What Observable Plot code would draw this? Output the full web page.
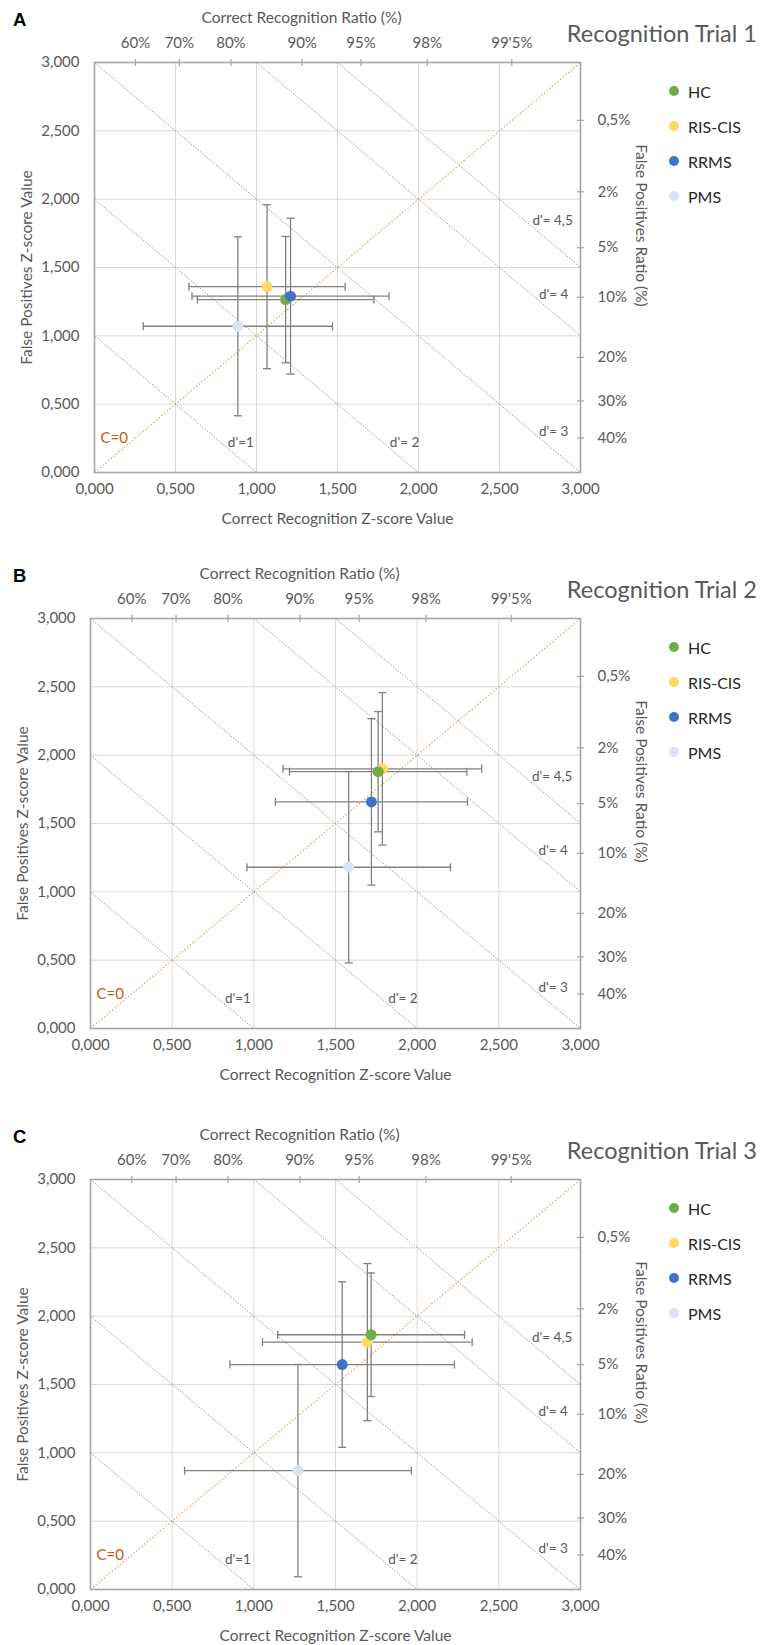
<!DOCTYPE html>
<html><head><meta charset="utf-8">
<script src="https://cdn.jsdelivr.net/npm/d3@7"></script>
<script src="https://cdn.jsdelivr.net/npm/@observablehq/plot@0.6"></script>
<style>
body{margin:0;background:#fff;font-family:Lato,sans-serif;}
#root{position:relative;width:761px;height:1645px;overflow:hidden;}
.panel{position:absolute;left:0;width:761px;height:530px;}
.panel svg{position:absolute;left:0;top:0;overflow:visible;}
.letter{position:absolute;left:13px;top:9px;font:bold 18.5px "Liberation Sans",Arial,sans-serif;color:#000;}
.ttl{position:absolute;right:4px;top:18px;font-size:23.5px;color:#595959;line-height:30px;white-space:nowrap;}
.leg{position:absolute;left:669px;font-size:16px;color:#262626;display:flex;align-items:center;height:20px;white-space:nowrap;}
.leg i{display:inline-block;width:10px;height:10px;border-radius:50%;margin-right:9px;}
</style></head><body><div id="root"></div>
<script>
// ---- data ----
const groups = ["HC", "RIS-CIS", "RRMS", "PMS"];
const groupColors = ["#70ad47", "#ffd966", "#4472c4", "#dae3f3"];
const trialNames = ["Recognition Trial 1", "Recognition Trial 2", "Recognition Trial 3"];
const panelLetters = ["A", "B", "C"];

// Trial 1
const t1X = [1.18, 1.065, 1.21, 0.885];
const t1Y = [1.265, 1.36, 1.29, 1.07];
const t1XErr = [0.545, 0.482, 0.608, 0.584];
const t1YErr = [0.462, 0.60, 0.57, 0.655];
// Trial 2
const t2X = [1.761, 1.787, 1.72, 1.581];
const t2Y = [1.879, 1.90, 1.658, 1.18];
const t2XErr = [0.543, 0.608, 0.588, 0.623];
const t2YErr = [0.44, 0.558, 0.609, 0.70];
// Trial 3
const t3X = [1.718, 1.695, 1.541, 1.27];
const t3Y = [1.864, 1.81, 1.646, 0.87];
const t3XErr = [0.572, 0.642, 0.687, 0.694];
const t3YErr = [0.452, 0.575, 0.606, 0.777];

const zTickValues = [0, 0.5, 1, 1.5, 2, 2.5, 3];
const hitRatioLabels = ["60%", "70%", "80%", "90%", "95%", "98%", "99'5%"];
const hitRatioZ = [0.253, 0.524, 0.842, 1.282, 1.645, 2.054, 2.576];
const faRatioLabels = ["0,5%", "2%", "5%", "10%", "20%", "30%", "40%"];
const faRatioZ = [2.576, 2.054, 1.645, 1.282, 0.842, 0.524, 0.253];
const dPrimeValues = [1, 2, 3, 4, 4.5];
const dPrimeLabels = ["d'=1", "d'= 2", "d'= 3", "d'= 4", "d'= 4,5"];
const dPrimeLabelY = [0.22, 0.22, 0.30, 1.30, 1.84];
const criterionLine = [0, 3];
const drawOrder = [1, 0, 2, 3];

// ---- drawing ----
const fmtZ = d => d3.format(".3f")(d).replace(".", ",");
const vtick = {draw(ctx, size) { const r = Math.sqrt(size / Math.PI); ctx.moveTo(0, -r); ctx.lineTo(0, r); }};
const htick = {draw(ctx, size) { const r = Math.sqrt(size / Math.PI); ctx.moveTo(-r, 0); ctx.lineTo(r, 0); }};
const ink = "#595959", barCol = "#808080";

function makePanel(X, Y, XE, YE, mLeft) {
  const data = groups.map((g, k) => ({g, x: X[k], y: Y[k], xe: XE[k], ye: YE[k]}));
  const dd = drawOrder.map(k => data[k]);
  const dLines = dPrimeValues.map(d => ({x1: Math.max(0, d - 3), y1: Math.min(3, d), x2: Math.min(3, d), y2: Math.max(0, d - 3)}));
  const dLab = dPrimeValues.map((d, k) => ({x: d - dPrimeLabelY[k], y: dPrimeLabelY[k], t: dPrimeLabels[k]}));
  const xCaps = dd.flatMap(d => [{x: d.x - d.xe, y: d.y}, {x: d.x + d.xe, y: d.y}]);
  const yCaps = dd.flatMap(d => [{x: d.x, y: d.y - d.ye}, {x: d.x, y: d.y + d.ye}]);
  const T = (txt, o) => Plot.text([txt], {fill: ink, fontSize: 15.5, textAnchor: "middle", lineAnchor: "middle", ...o});
  return Plot.plot({
    width: 761, height: 530, marginTop: 62, marginBottom: 58, marginLeft: mLeft, marginRight: 181,
    style: {fontFamily: "Lato, sans-serif", fontSize: "15px", color: ink, background: "transparent", overflow: "visible"},
    x: {domain: [0, 3]}, y: {domain: [0, 3]},
    color: {domain: groups, range: groupColors},
    marks: [
      Plot.gridX({ticks: zTickValues, stroke: "#d9d9d9", strokeOpacity: 1, strokeWidth: 1}),
      Plot.gridY({ticks: zTickValues, stroke: "#d9d9d9", strokeOpacity: 1, strokeWidth: 1}),
      Plot.link(dLines, {x1: "x1", y1: "y1", x2: "x2", y2: "y2", stroke: "#9a9a9a", strokeWidth: 1, strokeDasharray: "1.5,1.5"}),
      Plot.link([criterionLine], {x1: d => d[0], y1: d => d[0], x2: d => d[1], y2: d => d[1], stroke: "#f4a46e", strokeWidth: 1.3, strokeDasharray: "1.5,2"}),
      Plot.frame({stroke: "#a6a6a6", strokeWidth: 1.6}),
      Plot.axisX({anchor: "bottom", ticks: zTickValues, tickFormat: fmtZ, tickSize: 0, tickPadding: 11, fontSize: 15, fill: ink, label: null}),
      Plot.axisY({anchor: "left", ticks: zTickValues, tickFormat: fmtZ, tickSize: 0, tickPadding: 15, fontSize: 15, fill: ink, label: null}),
      Plot.axisX({anchor: "top", ticks: hitRatioZ, tickFormat: d => hitRatioLabels[hitRatioZ.indexOf(d)], tickSize: 0, tickPadding: 15, fontSize: 15, fill: ink, label: null}),
      Plot.axisY({anchor: "right", ticks: faRatioZ, tickFormat: d => faRatioLabels[faRatioZ.indexOf(d)], tickSize: 0, tickPadding: 17, fontSize: 15, fill: ink, label: null}),
      Plot.dot(hitRatioZ, {x: d => d, frameAnchor: "top", symbol: vtick, r: 3.5, stroke: "#a6a6a6", strokeWidth: 1.2, fill: "none"}),
      Plot.dot(faRatioZ, {y: d => d, frameAnchor: "right", symbol: htick, r: 3.5, stroke: "#a6a6a6", strokeWidth: 1.2, fill: "none"}),
      Plot.text(dLab, {x: "x", y: "y", text: "t", dx: 7, textAnchor: "start", lineAnchor: "middle", fill: ink, fontSize: 13.5}),
      T("C=0", {frameAnchor: "bottom-left", dx: 6, dy: -34, textAnchor: "start", fill: "#c55a11", fontSize: 15}),
      T("Correct Recognition Z-score Value", {frameAnchor: "bottom", dy: 47}),
      T("False Positives Z-score Value", {frameAnchor: "left", dx: -67, rotate: -90}),
      T("Correct Recognition Ratio (%)", {frameAnchor: "top", dx: -36, dy: -44}),
      T("False Positives Ratio (%)", {frameAnchor: "right", dx: 60, dy: -42, rotate: 90}),
      Plot.ruleY(dd, {y: "y", x1: d => d.x - d.xe, x2: d => d.x + d.xe, stroke: barCol, strokeWidth: 1.3}),
      Plot.ruleX(dd, {x: "x", y1: d => d.y - d.ye, y2: d => d.y + d.ye, stroke: barCol, strokeWidth: 1.3}),
      Plot.dot(xCaps, {x: "x", y: "y", symbol: vtick, r: 4, stroke: barCol, strokeWidth: 1.3, fill: "none"}),
      Plot.dot(yCaps, {x: "x", y: "y", symbol: htick, r: 4, stroke: barCol, strokeWidth: 1.3, fill: "none"}),
      Plot.dot(dd, {x: "x", y: "y", r: 5.5, fill: "g", stroke: null})
    ]
  });
}

const root = document.getElementById("root");
const panels = [
  {top: 0, X: t1X, Y: t1Y, XE: t1XErr, YE: t1YErr, ml: 94},
  {top: 556, X: t2X, Y: t2Y, XE: t2XErr, YE: t2YErr, ml: 90},
  {top: 1117, X: t3X, Y: t3Y, XE: t3XErr, YE: t3YErr, ml: 90}
];
panels.forEach((p, i) => {
  const div = document.createElement("div");
  div.className = "panel";
  div.style.top = p.top + "px";
  div.appendChild(makePanel(p.X, p.Y, p.XE, p.YE, p.ml));
  const letter = document.createElement("div");
  letter.className = "letter"; letter.textContent = panelLetters[i];
  div.appendChild(letter);
  const ttl = document.createElement("div");
  ttl.className = "ttl"; ttl.textContent = trialNames[i];
  div.appendChild(ttl);
  groups.forEach((g, k) => {
    const it = document.createElement("div");
    it.className = "leg";
    it.style.top = (81 + k * 35) + "px";
    const sw = document.createElement("i");
    sw.style.background = groupColors[k];
    it.appendChild(sw);
    it.appendChild(document.createTextNode(g));
    div.appendChild(it);
  });
  root.appendChild(div);
});
</script></body></html>
